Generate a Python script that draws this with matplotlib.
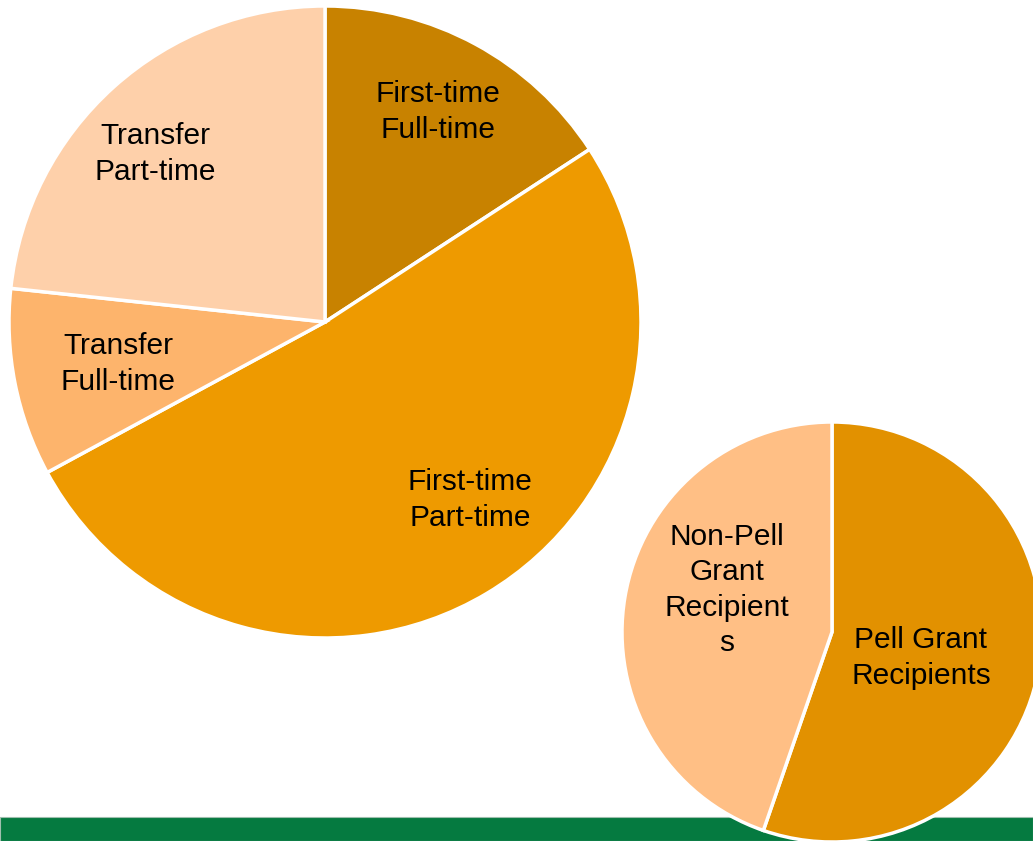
import matplotlib
matplotlib.use('Agg')
import matplotlib.pyplot as plt
from matplotlib.patches import Rectangle

# Enrollment mix (big pie), shares in percent, clockwise from 12 o'clock
enroll_labels = ['First-time\nFull-time', 'First-time\nPart-time',
                 'Transfer\nFull-time', 'Transfer\nPart-time']
enroll_share = [15.8, 51.3, 9.6, 23.3]
enroll_colors = ['#C88200', '#EE9A00', '#FDB46C', '#FED0AA']

# Pell status (small pie)
pell_labels = ['Pell Grant\nRecipients', 'Non-Pell\nGrant\nRecipient\ns']
pell_share = [55.3, 44.7]
pell_colors = ['#E29100', '#FFBF85']

W, H = 1033, 841
fig = plt.figure(figsize=(W / 100, H / 100), dpi=100)
ax = fig.add_axes([0, 0, 1, 1])

FS = 21.5
FONT = 'Liberation Sans'
LS = 1.32
wedge = dict(edgecolor='white', linewidth=2.5)

# green footer band (behind the small pie)
ax.add_patch(Rectangle((0, 0), W, 24, facecolor='#057A40', edgecolor='#9FBFAE',
                       linewidth=0.8, zorder=0))

ax.pie(enroll_share, colors=enroll_colors, startangle=90, counterclock=False,
       center=(325, H - 322), radius=316, wedgeprops=wedge, frame=True)
ax.pie(pell_share, colors=pell_colors, startangle=90, counterclock=False,
       center=(832, H - 632), radius=210, wedgeprops=wedge, frame=True)

# slice labels
enroll_pos = [(438, 112), (470, 500), (118, 364), (155, 154)]
for lab, (x, y) in zip(enroll_labels, enroll_pos):
    ax.text(x, H - y, lab, ha='center', va='center', fontsize=FS,
            family=FONT, linespacing=LS, zorder=5)
pell_pos = [(921, 658), (727, 590)]
for lab, (x, y) in zip(pell_labels, pell_pos):
    ax.text(x, H - y, lab, ha='center', va='center', fontsize=FS,
            family=FONT, linespacing=LS, zorder=5)

ax.set_xlim(0, W)
ax.set_ylim(0, H)
ax.set_aspect('equal')
ax.set_axis_off()

plt.savefig('out.png', dpi=100)
